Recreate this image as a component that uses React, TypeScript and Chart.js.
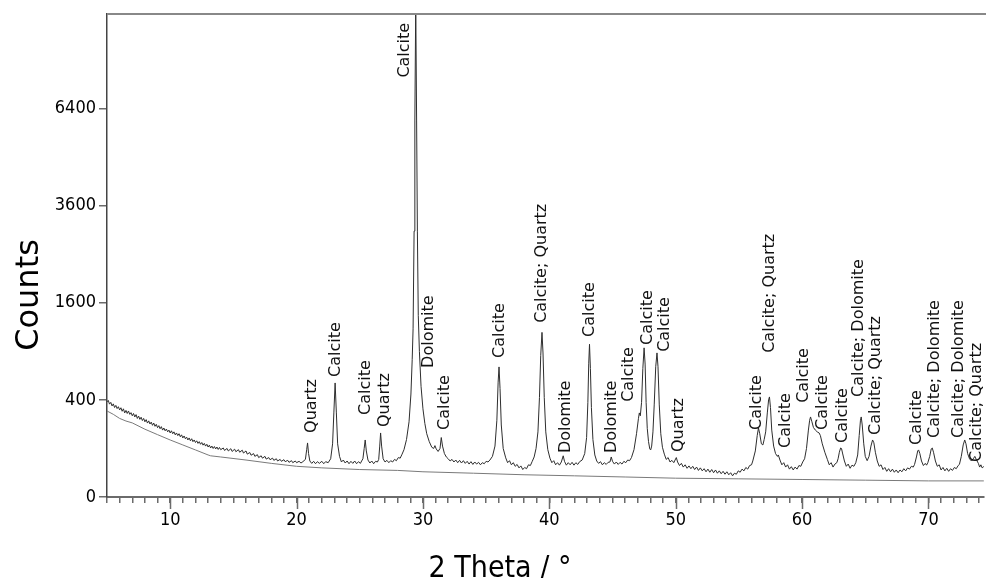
import React, { useEffect, useRef } from 'react';
import { Chart, registerables, LinearScale } from 'chart.js';

// ---- data ----
const xMin = 5;
const xMax = 74.38;
const yMax = 9900;
const yTickValues = [0, 400, 1600, 3600, 6400];
const xMajorTicks = [10, 20, 30, 40, 50, 60, 70];

// measured scan: [2θ, counts]
const scan: [number, number][] = [
  [5.0, 384], [5.1, 396], [5.2, 366], [5.3, 380], [5.4, 352], [5.5, 368], [5.6, 340], [5.7, 356],
  [5.8, 332], [5.9, 346], [6.0, 322], [6.1, 338], [6.2, 312], [6.3, 330], [6.4, 300], [6.5, 318],
  [6.6, 296], [6.7, 314], [6.8, 290], [6.9, 302], [7.0, 280], [7.1, 296], [7.2, 272], [7.3, 288],
  [7.4, 262], [7.5, 278], [7.6, 256], [7.7, 270], [7.8, 248], [7.9, 262], [8.0, 240], [8.1, 254],
  [8.2, 232], [8.3, 246], [8.4, 226], [8.5, 238], [8.6, 218], [8.7, 232], [8.8, 212], [8.9, 224],
  [9.0, 204], [9.1, 216], [9.2, 198], [9.3, 210], [9.4, 190], [9.5, 202], [9.6, 186], [9.7, 196],
  [9.8, 180], [9.9, 190], [10.0, 174], [10.1, 186], [10.2, 170], [10.3, 180], [10.4, 164], [10.5, 174],
  [10.6, 160], [10.7, 170], [10.8, 154], [10.9, 164], [11.0, 148], [11.1, 158], [11.2, 144], [11.3, 152],
  [11.4, 138], [11.5, 148], [11.6, 134], [11.7, 144], [11.8, 130], [11.9, 138], [12.0, 126], [12.1, 134],
  [12.2, 122], [12.3, 130], [12.4, 118], [12.5, 126], [12.6, 114], [12.7, 122], [12.8, 110], [12.9, 118],
  [13.0, 106], [13.1, 114], [13.2, 102], [13.3, 110], [13.4, 100], [13.5, 108], [13.6, 98], [13.7, 106],
  [13.8, 96], [13.9, 104], [14.0, 95], [14.2, 102], [14.3, 92], [14.5, 100], [14.6, 90], [14.8, 99],
  [14.9, 88], [15.1, 97], [15.2, 87], [15.4, 95], [15.5, 85], [15.7, 93], [15.8, 82], [16.0, 90],
  [16.1, 78], [16.3, 84], [16.4, 74], [16.6, 80], [16.7, 70], [16.9, 76], [17.0, 66], [17.2, 72],
  [17.3, 64], [17.5, 70], [17.6, 61], [17.8, 66], [17.9, 59], [18.1, 64], [18.2, 57], [18.4, 62],
  [18.5, 55], [18.7, 60], [18.8, 54], [19.0, 59], [19.1, 53], [19.3, 57], [19.4, 51], [19.6, 56],
  [19.7, 50], [19.9, 55], [20.0, 50], [20.2, 54], [20.35, 49], [20.5, 53], [20.7, 60],
  [20.8, 95], [20.87, 124], [20.95, 80], [21.05, 55], [21.2, 48], [21.35, 54], [21.5, 47], [21.65, 53],
  [21.8, 48], [22.0, 54], [22.15, 47], [22.3, 53], [22.5, 50], [22.7, 62], [22.85, 120], [22.95, 300],
  [23.05, 552], [23.15, 300], [23.25, 120], [23.4, 70], [23.55, 52], [23.7, 58], [23.85, 49], [24.0, 55],
  [24.15, 47], [24.3, 54], [24.45, 48], [24.6, 55], [24.75, 47], [24.9, 53], [25.05, 48], [25.15, 55],
  [25.25, 62], [25.35, 100], [25.43, 138], [25.52, 90], [25.65, 58], [25.8, 49], [25.95, 55], [26.1, 47],
  [26.25, 54], [26.4, 52], [26.5, 60], [26.58, 110], [26.65, 174], [26.73, 110], [26.85, 62], [27.0, 52],
  [27.15, 57], [27.3, 50], [27.45, 56], [27.6, 52], [27.75, 60], [27.9, 56], [28.05, 66], [28.2, 64],
  [28.35, 78], [28.5, 95], [28.7, 140], [28.9, 240], [29.05, 450], [29.15, 800],
  [29.22, 1200], [29.3, 3000], [29.36, 6000], [29.43, 10400], [29.5, 6000], [29.56, 3000], [29.63, 1400],
  [29.72, 900], [29.85, 520], [30.0, 330], [30.15, 230], [30.3, 170], [30.5, 130], [30.7, 105], [30.85, 100],
  [30.95, 112], [31.05, 98], [31.2, 88], [31.35, 100], [31.45, 150], [31.55, 110], [31.7, 80], [31.85, 68],
  [32.0, 62], [32.15, 55], [32.3, 60], [32.45, 52], [32.6, 58], [32.75, 50], [32.9, 57], [33.05, 49],
  [33.2, 56], [33.35, 48], [33.5, 54], [33.65, 46], [33.8, 53], [33.95, 45], [34.1, 52], [34.25, 46],
  [34.4, 51], [34.55, 44], [34.7, 50], [34.85, 47], [35.0, 54], [35.15, 52], [35.3, 58], [35.5, 70],
  [35.7, 110], [35.85, 250], [35.95, 560], [36.02, 718], [36.1, 500], [36.2, 220], [36.35, 100], [36.55, 65],
  [36.7, 50], [36.85, 56], [37.0, 44], [37.15, 50], [37.3, 40], [37.45, 45], [37.6, 36], [37.75, 41],
  [37.9, 32], [38.05, 37], [38.2, 34], [38.35, 44], [38.5, 42], [38.65, 54], [38.8, 68], [38.95, 100],
  [39.1, 180], [39.22, 420], [39.32, 850], [39.42, 1150], [39.5, 880], [39.6, 420],
  [39.72, 180], [39.88, 95], [40.05, 64], [40.2, 50], [40.35, 56], [40.5, 44], [40.65, 50], [40.8, 43],
  [40.95, 52], [41.1, 72], [41.2, 54], [41.35, 43], [41.5, 50], [41.65, 44], [41.8, 51], [41.95, 43],
  [42.1, 50], [42.25, 45], [42.4, 53], [42.6, 58], [42.8, 80],
  [42.95, 150], [43.05, 380], [43.12, 760], [43.18, 990], [43.25, 700], [43.33, 340], [43.45, 140], [43.6, 75],
  [43.75, 55], [43.9, 48], [44.05, 53], [44.2, 44], [44.35, 50], [44.5, 45], [44.65, 51], [44.8, 52],
  [44.9, 68], [45.0, 54], [45.15, 46], [45.3, 52], [45.45, 45], [45.6, 51], [45.75, 46], [45.9, 54],
  [46.05, 50], [46.2, 58], [46.35, 56], [46.5, 66], [46.7, 95], [46.9, 170], [47.05, 260],
  [47.12, 300], [47.2, 280], [47.3, 380], [47.4, 700], [47.5, 944], [47.58, 750], [47.66, 380], [47.75, 200],
  [47.85, 130], [47.95, 98], [48.02, 94], [48.1, 110], [48.2, 180], [48.3, 360], [48.42, 720], [48.52, 881],
  [48.6, 720], [48.7, 360], [48.82, 170], [48.95, 105], [49.1, 78], [49.25, 60], [49.4, 66], [49.55, 52],
  [49.7, 57], [49.85, 50], [49.95, 58], [50.05, 66], [50.15, 52], [50.3, 42], [50.45, 48], [50.6, 38],
  [50.75, 44], [50.9, 35], [51.05, 41], [51.2, 34], [51.35, 40], [51.5, 32], [51.65, 38], [51.8, 30],
  [51.95, 36], [52.1, 29], [52.25, 34], [52.4, 27], [52.55, 33], [52.7, 26], [52.85, 32], [53.0, 25],
  [53.15, 31], [53.3, 24], [53.45, 29], [53.6, 23], [53.75, 28], [53.9, 22], [54.05, 27], [54.2, 21],
  [54.35, 25], [54.5, 19], [54.65, 24], [54.8, 22], [54.95, 29], [55.1, 26], [55.25, 33], [55.4, 29],
  [55.55, 37], [55.7, 33], [55.85, 42], [56.0, 44], [56.1, 55], [56.3, 90], [56.45, 160], [56.55, 202],
  [56.65, 170], [56.78, 120],
  [56.9, 115], [57.0, 140], [57.12, 180], [57.25, 300], [57.35, 400], [57.42, 425], [57.5, 340], [57.6, 190],
  [57.75, 110], [57.9, 80], [58.05, 70], [58.12, 75], [58.25, 58], [58.4, 44], [58.55, 50], [58.7, 38],
  [58.85, 44], [59.0, 33], [59.15, 39], [59.3, 31], [59.45, 38], [59.6, 33], [59.75, 42], [59.9, 40],
  [60.05, 52], [60.2, 62], [60.35, 100], [60.5, 190], [60.6, 250],
  [60.67, 272], [60.78, 240], [60.9, 205], [61.05, 190], [61.2, 180], [61.35, 174], [61.45, 160], [61.6, 120],
  [61.8, 85], [62.0, 60], [62.15, 44], [62.3, 50], [62.45, 38], [62.6, 46], [62.75, 50], [62.85, 62],
  [62.95, 85], [63.05, 102], [63.12, 100], [63.2, 82], [63.35, 55], [63.5, 40], [63.65, 46], [63.8, 35],
  [63.95, 43], [64.1, 40], [64.25, 50], [64.4, 75],
  [64.52, 160], [64.62, 250], [64.68, 272], [64.76, 220], [64.88, 120], [65.0, 70], [65.15, 56], [65.3, 70],
  [65.45, 110], [65.58, 138], [65.68, 125], [65.8, 85], [65.95, 55], [66.1, 40], [66.25, 44], [66.4, 32],
  [66.55, 37], [66.7, 28], [66.85, 34], [67.0, 27], [67.15, 33], [67.3, 26], [67.45, 31], [67.6, 25],
  [67.75, 31], [67.9, 27], [68.05, 34], [68.2, 29], [68.35, 36], [68.5, 33], [68.65, 40], [68.8, 38],
  [68.9, 45], [69.05, 68], [69.15, 90], [69.22, 94], [69.32, 80], [69.45, 55], [69.6, 42], [69.75, 48],
  [69.85, 43], [69.95, 50], [70.1, 70], [70.22, 98], [70.3, 102], [70.4, 85], [70.55, 55], [70.7, 40],
  [70.85, 44], [71.0, 31], [71.15, 37], [71.3, 29], [71.45, 35], [71.6, 28], [71.75, 34], [71.9, 30],
  [72.05, 37], [72.2, 34], [72.35, 42], [72.45, 45], [72.6, 70], [72.75, 115],
  [72.87, 138], [72.97, 120], [73.1, 80], [73.25, 62], [73.4, 55], [73.55, 62], [73.67, 70], [73.78, 60],
  [73.95, 48], [74.05, 38], [74.15, 44], [74.25, 36], [74.4, 40],
];

// fitted background line: [2θ, counts]
const background: [number, number][] = [
  [5.0, 314], [5.5, 290], [6.0, 262], [6.5, 245], [7.0, 233], [8.0, 195], [9.0, 165], [10.0, 138],
  [11.0, 115], [12.0, 94], [13.0, 75], [13.2, 72], [14.0, 68], [16.0, 58], [18.0, 48], [20.0, 40],
  [22.0, 36], [25.0, 32], [28.0, 30], [30.0, 27], [34.0, 24], [38.0, 21], [42.0, 19], [46.0, 17],
  [50.0, 15], [55.0, 14], [60.0, 13], [65.0, 12], [70.0, 11], [74.4, 11],
];

// phase labels: text start position (2θ, counts)
const labelTheta = [21.2, 23.14, 25.47, 26.97, 28.55, 30.48, 31.7, 36.08, 39.44, 41.33, 43.22, 44.92, 46.26, 47.76,
  49.18, 50.21, 56.44, 57.47, 58.73, 60.15, 61.65, 63.23, 64.5, 65.84, 69.07, 70.5, 72.39, 73.85];
const labelCounts = [174, 612, 286, 208, 7464, 707, 191, 821, 1287, 82, 1088, 82, 384, 982,
  894, 86, 191, 882, 102, 376, 191, 124, 425, 163, 115, 148, 148, 52];
const labelText = ['Quartz', 'Calcite', 'Calcite', 'Quartz', 'Calcite', 'Dolomite', 'Calcite', 'Calcite',
  'Calcite; Quartz', 'Dolomite', 'Calcite', 'Dolomite', 'Calcite', 'Calcite', 'Calcite', 'Quartz', 'Calcite',
  'Calcite; Quartz', 'Calcite', 'Calcite', 'Calcite', 'Calcite', 'Calcite; Dolomite', 'Calcite; Quartz',
  'Calcite', 'Calcite; Dolomite', 'Calcite; Dolomite', 'Calcite; Quartz'];

const xTitle = '2 Theta / °';
const yTitle = 'Counts';

// ---- square-root scale ----
class SqrtScale extends LinearScale {
  static id = 'sqrt';
  static defaults = {};
  getPixelForValue(value: number) {
    if (value === null || value === undefined || isNaN(value as any)) return NaN;
    const lo = Math.sqrt(Math.max(0, this.min));
    const hi = Math.sqrt(Math.max(0, this.max));
    const v = Math.sqrt(Math.max(0, value));
    return this.getPixelForDecimal((v - lo) / (hi - lo));
  }
  getValueForPixel(pixel: number) {
    const lo = Math.sqrt(Math.max(0, this.min));
    const hi = Math.sqrt(Math.max(0, this.max));
    const s = lo + this.getDecimalForPixel(pixel) * (hi - lo);
    return s * s;
  }
}

Chart.register(...registerables, SqrtScale as any);

const SANS = '"DejaVu Sans", "Liberation Sans", sans-serif';
const COND = '"DejaVu Sans Condensed", "DejaVu Sans", sans-serif';
const AXIS = '#6b6b6b';

const decorPlugin = {
  id: 'decor',
  afterDatasetsDraw(chart: any) {
    const { ctx, scales } = chart;
    const x = scales.x;
    const y = scales.y;
    ctx.save();
    ctx.fillStyle = '#111';
    ctx.font = `16px ${SANS}`;
    ctx.textAlign = 'left';
    ctx.textBaseline = 'middle';
    for (let i = 0; i < labelText.length; i++) {
      const px = x.getPixelForValue(labelTheta[i]);
      const py = y.getPixelForValue(labelCounts[i]);
      ctx.save();
      ctx.translate(px, py);
      ctx.rotate(-Math.PI / 2);
      ctx.fillText(labelText[i], 0, 0);
      ctx.restore();
    }
    ctx.restore();
  },
  afterDraw(chart: any) {
    const { ctx, chartArea, scales } = chart;
    const x = scales.x;
    ctx.save();
    ctx.strokeStyle = '#888';
    ctx.lineWidth = 2;
    ctx.beginPath();
    ctx.moveTo(chartArea.left, chartArea.top);
    ctx.lineTo(chart.width, chartArea.top);
    ctx.stroke();
    ctx.strokeStyle = AXIS;
    ctx.lineWidth = 1.5;
    for (const t of xMajorTicks) {
      const px = Math.round(x.getPixelForValue(t)) + 0.5;
      ctx.beginPath();
      ctx.moveTo(px, chartArea.bottom);
      ctx.lineTo(px, chartArea.bottom + 12);
      ctx.stroke();
    }
    ctx.fillStyle = '#000';
    ctx.font = `30px ${COND}`;
    ctx.textAlign = 'center';
    ctx.textBaseline = 'alphabetic';
    ctx.fillText(xTitle, 500, 577);
    ctx.save();
    ctx.translate(38, 295);
    ctx.rotate(-Math.PI / 2);
    ctx.font = `32px ${SANS}`;
    ctx.fillText(yTitle, 0, 0);
    ctx.restore();
    ctx.restore();
  },
};

export default function App() {
  const ref = useRef<HTMLCanvasElement>(null);
  useEffect(() => {
    document.body.style.margin = '0';
    const chart = new Chart(ref.current as HTMLCanvasElement, {
      type: 'line',
      data: {
        datasets: [
          {
            label: 'scan',
            data: scan.map(([a, b]) => ({ x: a, y: b })),
            borderColor: '#2e2e2e',
            borderWidth: 1,
            pointRadius: 0,
            tension: 0,
            fill: false,
          },
          {
            label: 'background',
            data: background.map(([a, b]) => ({ x: a, y: b })),
            borderColor: '#7a7a7a',
            borderWidth: 1,
            pointRadius: 0,
            tension: 0,
            fill: false,
          },
        ],
      },
      options: {
        animation: false,
        responsive: false,
        devicePixelRatio: 1,
        layout: { padding: { left: 0, right: 0, top: 14, bottom: 0 }, autoPadding: false } as any,
        plugins: { legend: { display: false }, tooltip: { enabled: false } },
        scales: {
          x: {
            type: 'linear',
            min: xMin,
            max: xMax,
            ticks: {
              stepSize: 1,
              autoSkip: false,
              maxRotation: 0,
              includeBounds: false,
              padding: 7,
              color: '#000',
              font: { family: COND, size: 18 },
              callback: (v: any) => (Number(v) % 10 === 0 ? String(v) : ''),
            },
            grid: { drawOnChartArea: false, tickLength: 6, color: AXIS, lineWidth: 1.5 },
            border: { color: AXIS, width: 2 },
            afterFit: (s: any) => { s.height = 81; },
          },
          y: {
            type: 'sqrt' as any,
            min: 0,
            max: yMax,
            afterBuildTicks: (s: any) => { s.ticks = yTickValues.map((v) => ({ value: v })); },
            ticks: {
              padding: 3,
              color: '#000',
              font: { family: COND, size: 18 },
              callback: (v: any) => String(v),
            },
            grid: { drawOnChartArea: false, tickLength: 8, color: AXIS, lineWidth: 1.5 },
            border: { color: '#444', width: 1.5 },
            afterFit: (s: any) => { s.width = 107; },
          } as any,
        },
      },
      plugins: [decorPlugin],
    } as any);
    return () => chart.destroy();
  }, []);
  return (
    <div style={{ width: 986, height: 578, background: '#fff' }}>
      <canvas ref={ref} width={986} height={578} style={{ display: 'block' }} />
    </div>
  );
}
